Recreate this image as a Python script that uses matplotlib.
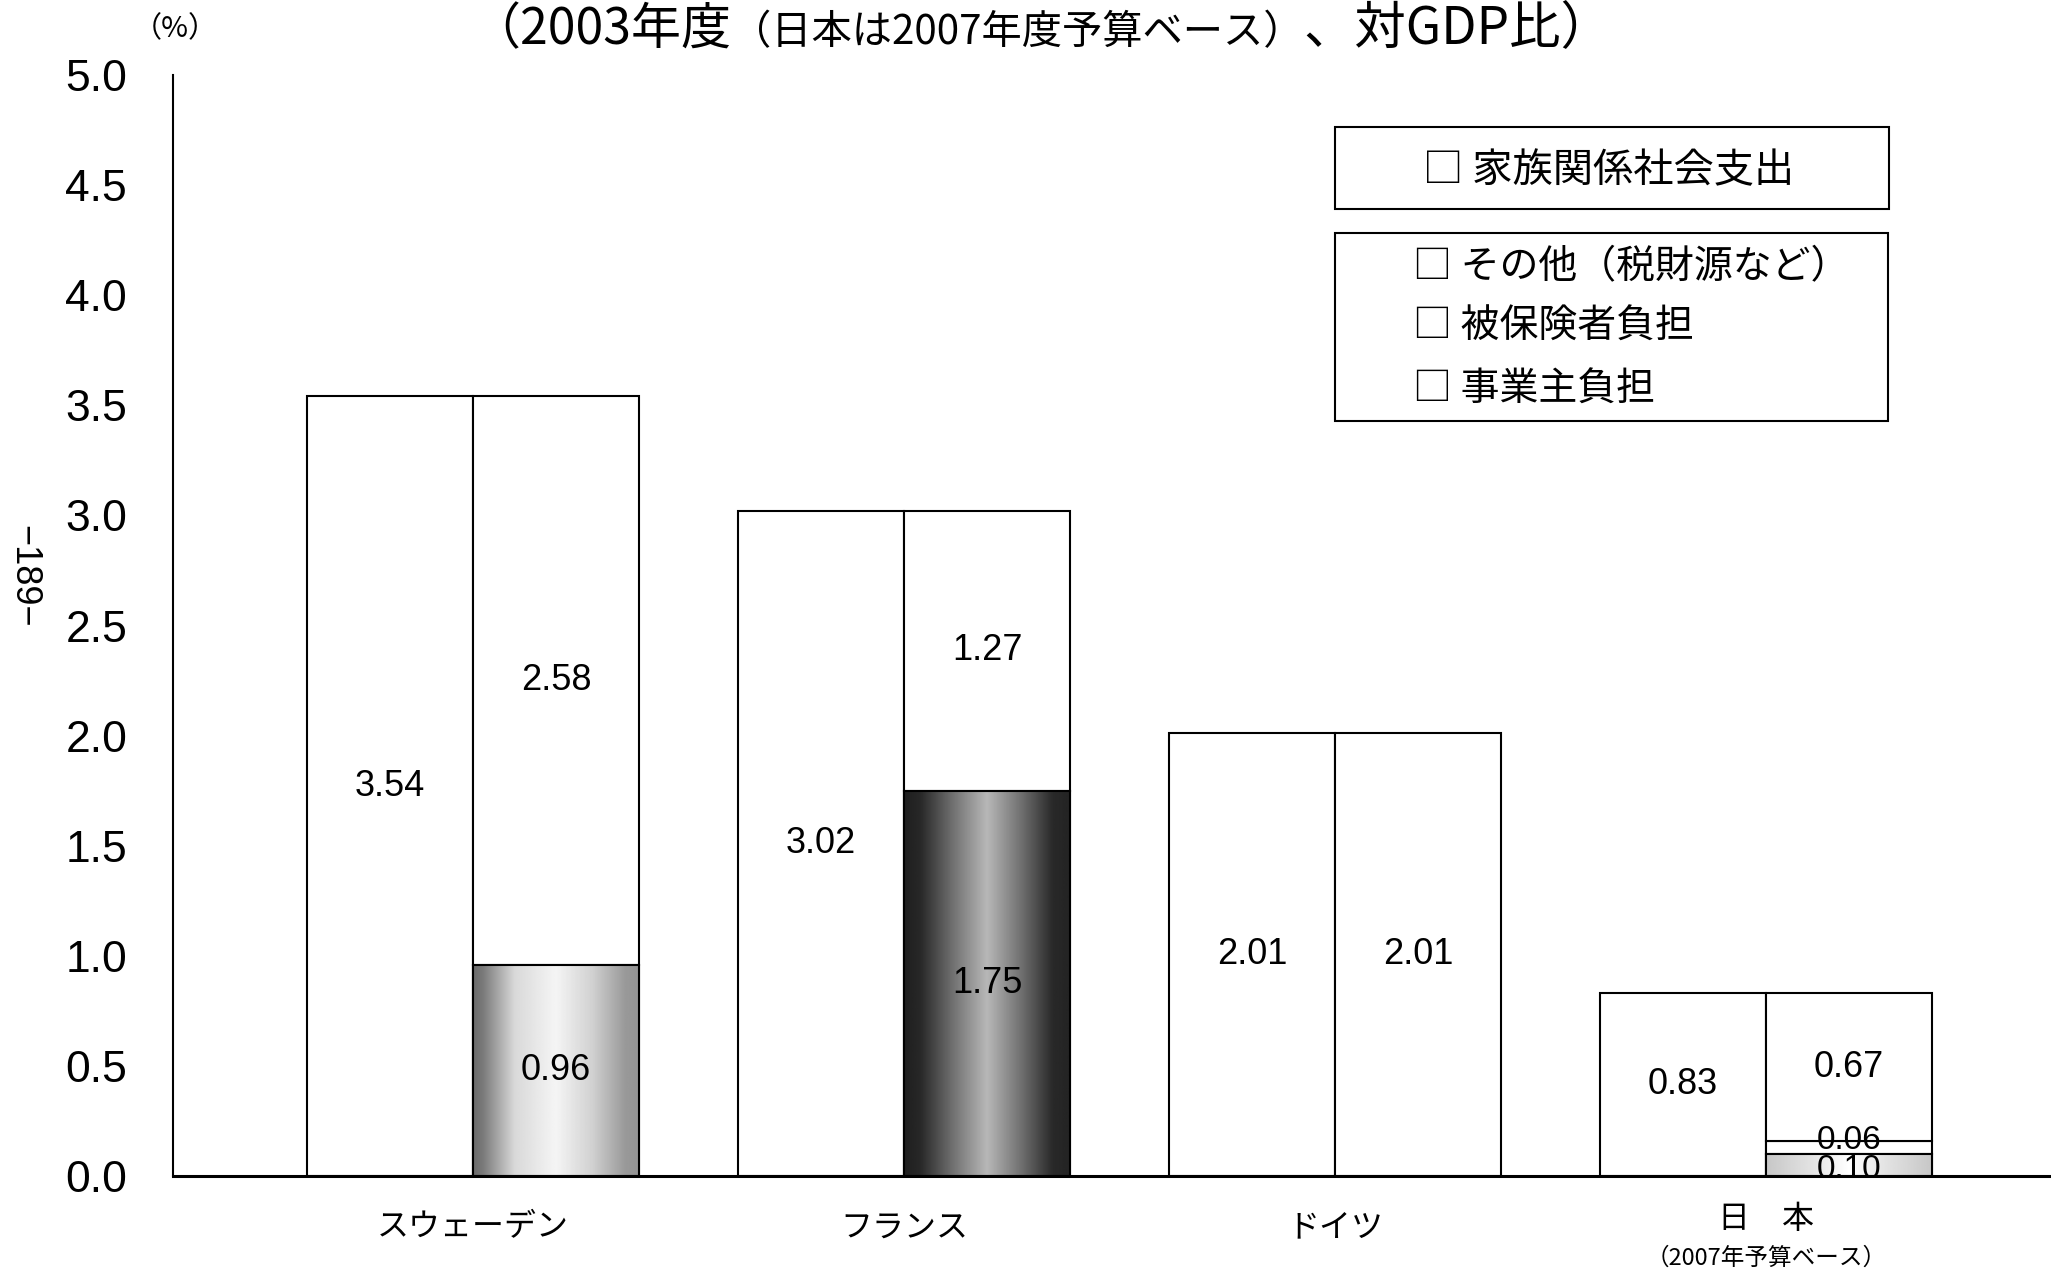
import numpy as np
import matplotlib
matplotlib.use("Agg")
import matplotlib.pyplot as plt
from matplotlib.patches import Rectangle

JP = ['Noto Sans CJK JP', 'DejaVu Sans']
NUM = ['Liberation Sans', 'DejaVu Sans']

# ---- data (% of GDP) ----
countries = ['スウェーデン', 'フランス', 'ドイツ', '日　本']
country_notes = ['', '', '', '（2007年予算ベース）']
family_spending = [3.54, 3.02, 2.01, 0.83]      # 家族関係社会支出
employer_share = [0.96, 1.75, 0.00, 0.10]       # 事業主負担
insured_share = [0.00, 0.00, 0.00, 0.06]        # 被保険者負担
other_share = [2.58, 1.27, 2.01, 0.67]          # その他（税財源など）
y_ticks = [0.0, 0.5, 1.0, 1.5, 2.0, 2.5, 3.0, 3.5, 4.0, 4.5, 5.0]

title_parts = [('（2003年度', 36), ('（日本は2007年度予算ベース）', 29), ('、対GDP比）', 37)]
legend_top = '□ 家族関係社会支出'
legend_items = ['□ その他（税財源など）', '□ 被保険者負担', '□ 事業主負担']

# shading of the employer segments: (position across bar, gray level)
shade_profiles = {
    0: ([0.0, 0.06, 0.25, 0.5, 0.72, 0.92, 1.0], [0.42, 0.48, 0.85, 0.96, 0.82, 0.6, 0.58]),
    1: ([0.0, 0.1, 0.3, 0.5, 0.7, 0.9, 1.0], [0.12, 0.16, 0.45, 0.72, 0.45, 0.16, 0.14]),
    3: ([0.0, 0.3, 0.5, 0.7, 1.0], [0.78, 0.9, 1.0, 0.9, 0.78]),
}

W, H = 2051, 1271
fig = plt.figure(figsize=(W / 100, H / 100), dpi=100)
fig.patch.set_facecolor('white')

ax_left, ax_right, ax_top, ax_bottom = 173, 2051, 75, 1176
ax = fig.add_axes([ax_left / W, 1 - ax_bottom / H,
                   (ax_right - ax_left) / W, (ax_bottom - ax_top) / H])

x = np.arange(len(countries))
bw = 0.385
edge = dict(edgecolor='black', linewidth=1.5)

# left bars: total family-related spending
ax.bar(x - bw / 2, family_spending, width=bw, color='white', zorder=2, **edge)

# right bars: breakdown by funding source
emp = np.array(employer_share)
ins = np.array(insured_share)
oth = np.array(other_share)
ax.bar(x + bw / 2, emp, width=bw, color='white', zorder=2, **edge)
ax.bar(x + bw / 2, ins, bottom=emp, width=bw, color='white', zorder=2, **edge)
ax.bar(x + bw / 2, oth, bottom=emp + ins, width=bw, color='white', zorder=2, **edge)

# gray shading inside the employer segments
for i, (pos, lv) in shade_profiles.items():
    if emp[i] <= 0:
        continue
    t = np.linspace(0, 1, 200)
    g = np.interp(t, pos, lv)[None, :]
    x0 = x[i]
    im = ax.imshow(g, cmap='gray', vmin=0, vmax=1, aspect='auto',
                   extent=[x0, x0 + bw, 0, emp[i]], interpolation='bilinear', zorder=2.5)
    clip = Rectangle((x0, 0), bw, emp[i], transform=ax.transData)
    im.set_clip_path(clip)
    ax.add_patch(Rectangle((x0, 0), bw, emp[i], fill=False, zorder=3, **edge))

# value labels; labels of very thin segments are a bit smaller and nudged apart
for i in range(len(countries)):
    ax.text(x[i] - bw / 2, family_spending[i] / 2, f'{family_spending[i]:.2f}',
            ha='center', va='center', fontsize=26, family=NUM, zorder=5)
    base = 0.0
    for k, seg in enumerate((emp[i], ins[i], oth[i])):
        if seg > 0:
            thin = seg < 0.2
            dy = (5 if k == 1 else -3) if thin else 0
            ax.annotate(f'{seg:.2f}', xy=(x[i] + bw / 2, base + seg / 2),
                        xytext=(0, dy), textcoords='offset points',
                        ha='center', va='center', fontsize=24 if thin else 26,
                        family=NUM, zorder=5)
        base += seg

ax.set_xlim(-0.696, 3.661)
ax.set_ylim(0, 5.0)
ax.set_yticks(y_ticks)
ax.set_yticklabels([f'{v:.1f}' for v in y_ticks], fontsize=32, family=NUM)
ax.tick_params(axis='y', length=0, pad=33)
ax.set_xticks([])
for s in ('top', 'right'):
    ax.spines[s].set_visible(False)
ax.spines['left'].set_linewidth(1.5)
ax.spines['bottom'].set_linewidth(2.2)
ax.set_facecolor('none')

# category labels
for i, name in enumerate(countries):
    off = -37 if not country_notes[i] else -31
    ax.annotate(name, xy=(x[i], 0), xycoords=('data', 'axes fraction'),
                xytext=(0, off), textcoords='offset points',
                ha='center', va='center', fontsize=23, family=JP)
    if country_notes[i]:
        ax.annotate(country_notes[i], xy=(x[i], 0), xycoords=('data', 'axes fraction'),
                    xytext=(0, -59), textcoords='offset points',
                    ha='center', va='center', fontsize=17, family=JP)

# title (partly cut at the top edge)
renderer = fig.canvas.get_renderer()
tx = 470
for s, size in title_parts:
    t = fig.text(tx / W, 1 - 44 / H, s, fontsize=size, family=JP, ha='left', va='baseline')
    tx = t.get_window_extent(renderer=renderer).x1

# unit
fig.text(175 / W, 1 - 29 / H, '（%）', fontsize=21, family=JP, ha='center', va='center')

# page number on the margin
fig.text(24 / W, 1 - 576 / H, '−189−', fontsize=26, family=NUM, rotation=-90,
         ha='center', va='center')

# legend boxes
def box(x0, y0, x1, y1):
    fig.add_artist(Rectangle((x0 / W, 1 - y1 / H), (x1 - x0) / W, (y1 - y0) / H,
                             transform=fig.transFigure, fill=False,
                             edgecolor='black', linewidth=1.5))

box(1335, 127, 1889, 209)
box(1335, 233, 1888, 421)
fig.text(1423 / W, 1 - 171 / H, legend_top, fontsize=29, family=JP, ha='left', va='center')
for label, yy in zip(legend_items, [267, 327, 390]):
    fig.text(1413 / W, 1 - yy / H, label, fontsize=28, family=JP, ha='left', va='center')

fig.savefig('out.png', dpi=100, facecolor='white')
